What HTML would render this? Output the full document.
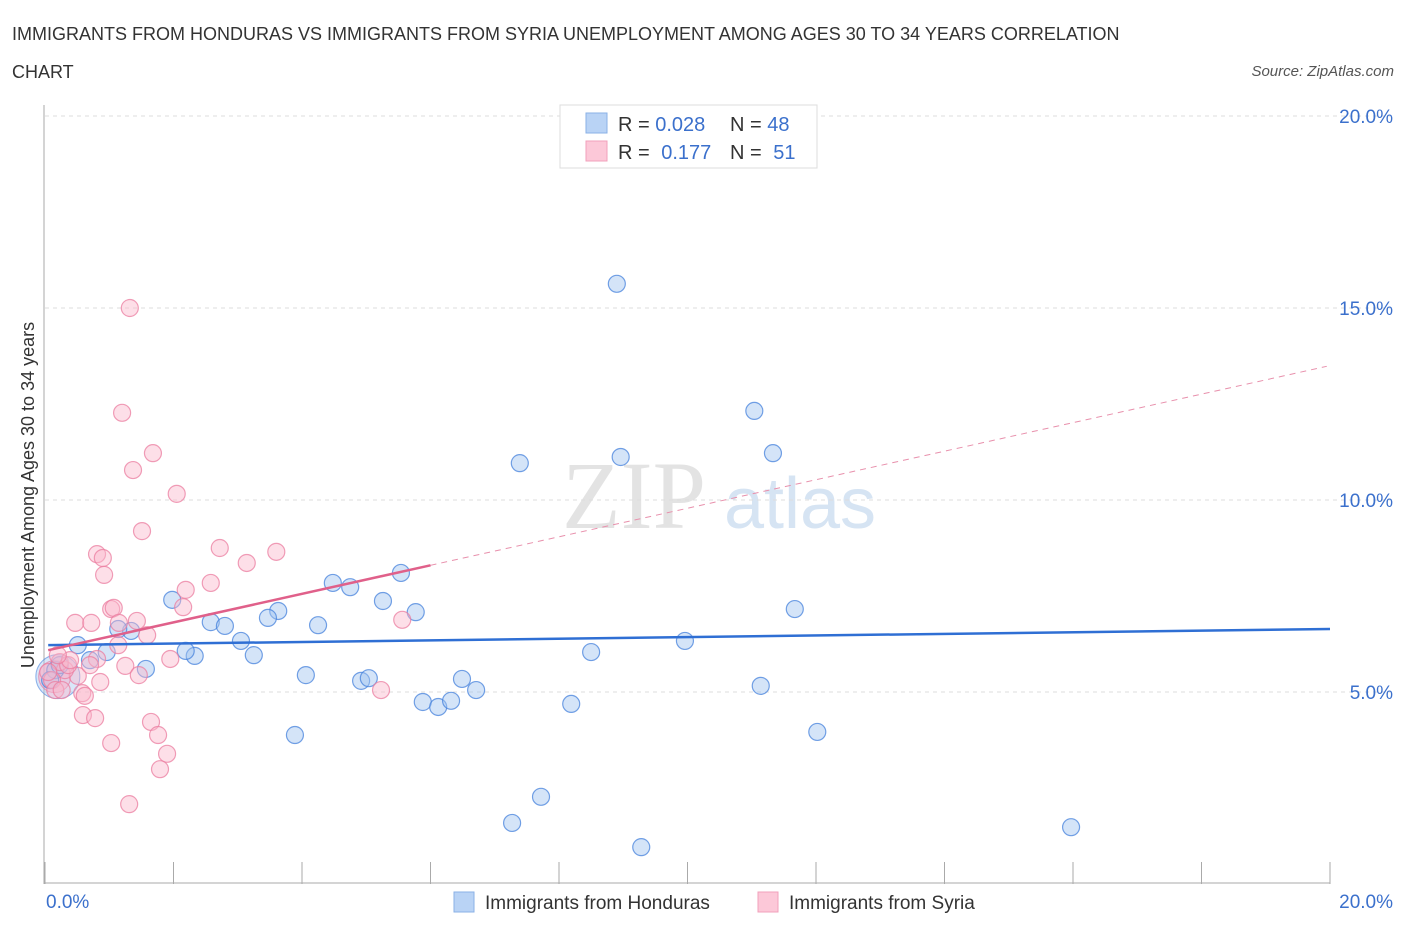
<!DOCTYPE html>
<html><head><meta charset="utf-8"><style>
body{margin:0;background:#fff;font-family:"Liberation Sans",sans-serif}
#wrap{position:relative;width:1406px;height:930px;overflow:hidden}
</style></head><body>
<div id="wrap">
<svg id="svg" width="1406" height="930" xmlns="http://www.w3.org/2000/svg">
<text x="12" y="40" font-size="18" fill="#333">IMMIGRANTS FROM HONDURAS VS IMMIGRANTS FROM SYRIA UNEMPLOYMENT AMONG AGES 30 TO 34 YEARS CORRELATION</text>
<text x="12" y="78" font-size="18" fill="#333">CHART</text>
<text x="1394" y="76" font-size="15" fill="#555" font-style="italic" text-anchor="end">Source: ZipAtlas.com</text>
<text x="634" y="528" font-size="96" fill="#e3e3e3" font-family="Liberation Serif,serif" text-anchor="middle">ZIP</text>
<text x="800" y="528" font-size="72" fill="#d6e4f3" text-anchor="middle">atlas</text>
<text transform="translate(34,495) rotate(-90)" font-size="18" fill="#333" text-anchor="middle">Unemployment Among Ages 30 to 34 years</text>
<g id="grid"></g><g id="pts"></g><g id="lines"></g>
<g>
<rect x="560" y="105" width="257" height="63" fill="#fff" stroke="#ddd"/>
<rect x="586" y="113" width="21" height="20" fill="#b9d3f5" stroke="#8ab0e6"/>
<rect x="586" y="141" width="21" height="20" fill="#fcc8d8" stroke="#f2a0bb"/>
<text x="618" y="131" font-size="20" fill="#333">R = <tspan fill="#3b70cc">0.028</tspan></text>
<text x="730" y="131" font-size="20" fill="#333">N = <tspan fill="#3b70cc">48</tspan></text>
<text x="618" y="159" font-size="20" fill="#333">R = <tspan fill="#3b70cc" dx="6">0.177</tspan></text>
<text x="730" y="159" font-size="20" fill="#333">N = <tspan fill="#3b70cc" dx="6">51</tspan></text>
</g>
<g>
<rect x="454" y="892" width="20" height="20" fill="#b9d3f5" stroke="#8ab0e6"/>
<text x="485" y="909" font-size="19" fill="#333">Immigrants from Honduras</text>
<rect x="758" y="892" width="20" height="20" fill="#fcc8d8" stroke="#f2a0bb"/>
<text x="789" y="909" font-size="19" fill="#333">Immigrants from Syria</text>
</g>
</svg>
</div>
<script>
const yTicks=[5,10,15,20];
const xTickLabels=["0.0%","20.0%"];
const hondX=[8.90,11.04,11.33,7.39,8.96,11.67,9.96,8.50,11.14,12.02,8.19,7.72,7.27,9.28,15.97,5.54,4.48,4.75,5.26,5.77,3.63,3.47,4.25,1.98,2.58,2.80,3.05,3.25,2.33,2.19,1.34,1.14,0.96,0.51,0.70,1.57,4.06,4.92,5.04,6.49,6.71,5.88,6.12,6.32,3.89,0.16,0.08,0.23];
const hondY=[15.63,12.32,11.22,10.96,11.12,7.16,6.33,6.04,5.16,3.96,4.69,2.27,1.59,0.96,1.48,8.10,7.84,7.73,7.37,7.08,7.11,6.93,6.74,7.40,6.82,6.72,6.33,5.96,5.94,6.07,6.59,6.64,6.04,6.22,5.83,5.60,5.44,5.29,5.36,5.34,5.05,4.74,4.61,4.77,3.88,5.57,5.31,5.70];
const syrX=[1.32,1.20,1.68,1.37,2.05,1.51,0.81,0.90,0.92,2.72,3.60,3.14,2.58,2.19,2.15,1.03,1.07,0.47,0.72,1.43,1.15,1.59,1.14,5.56,0.81,1.25,1.95,1.46,0.86,0.51,0.31,0.23,0.11,0.36,0.58,0.62,0.59,0.78,1.65,1.76,1.03,1.90,1.79,1.31,5.23,0.16,0.39,0.05,0.26,0.70,0.20];
const syrY=[15.0,12.27,11.22,10.78,10.16,9.19,8.59,8.49,8.05,8.75,8.65,8.36,7.84,7.66,7.21,7.16,7.19,6.80,6.80,6.85,6.80,6.48,6.22,6.88,5.86,5.68,5.86,5.44,5.26,5.42,5.57,5.78,5.31,5.70,4.97,4.90,4.40,4.32,4.22,3.88,3.67,3.39,2.99,2.08,5.05,5.05,5.83,5.52,5.05,5.70,5.96];
const hondTrend=[6.22,6.64];
const syrTrend=[6.07,13.5];
const X0=45,X1=1330,Y0=884,Y20=116;
const sx=v=>X0+(X1-X0)*v/20, sy=v=>Y0-(Y0-Y20)*v/20;
const NS="http://www.w3.org/2000/svg";
function mk(p,t,a){const e=document.createElementNS(NS,t);for(const k in a)e.setAttribute(k,a[k]);p.appendChild(e);return e;}
const grid=document.getElementById('grid'),pts=document.getElementById('pts'),lines=document.getElementById('lines');
yTicks.forEach(v=>{
 const l=mk(grid,'line',{x1:X0,x2:1390,y1:sy(v),y2:sy(v),stroke:'#ddd','stroke-dasharray':'4,4'});
 
 
 const t=mk(grid,'text',{x:1393,y:sy(v)+7,'font-size':19,fill:'#3b70cc','text-anchor':'end'});
 t.textContent=v.toFixed(1)+'%';
 
 
});
const ax=mk(grid,'line',{x1:X0-1,x2:X0-1,y1:105,y2:Y0,stroke:'#aaa'});


const bx=mk(grid,'line',{x1:X0,x2:X1,y1:Y0-1,y2:Y0-1,stroke:'#aaa'});


for(let i=0;i<=10;i++){const tk=mk(grid,'line',{x1:sx(i*2),x2:sx(i*2),y1:Y0,y2:862,stroke:'#aaa'});
 
 }
[[0,'start',46],[20,'end',1393]].forEach((d,i)=>{const t=mk(grid,'text',{x:d[2],y:908,'font-size':19,fill:'#3b70cc','text-anchor':d[1]});t.textContent=xTickLabels[i];
 
 });
// big overlap blobs near origin
const b1=mk(pts,'circle',{cx:sx(0.2),cy:sy(5.4),r:22,fill:'rgba(160,195,240,0.4)',stroke:'rgba(70,130,220,0.6)'});


const b2=mk(pts,'circle',{cx:sx(0.15),cy:sy(5.4),r:16,fill:'rgba(245,170,200,0.45)',stroke:'rgba(230,110,150,0.6)'});


hondX.forEach((x,i)=>{const c=mk(pts,'circle',{cx:sx(x),cy:sy(hondY[i]),r:8.5,fill:'rgba(160,195,240,0.45)',stroke:'rgba(70,130,220,0.75)','stroke-width':1.2});
 
 });
syrX.forEach((x,i)=>{const c=mk(pts,'circle',{cx:sx(x),cy:sy(syrY[i]),r:8.5,fill:'rgba(250,185,205,0.45)',stroke:'rgba(235,125,160,0.75)','stroke-width':1.2});
 
 });
const hl=mk(lines,'line',{x1:sx(0.05),y1:sy(hondTrend[0]),x2:sx(20),y2:sy(hondTrend[1]),stroke:'#2f6fd4','stroke-width':2.5});


const syAt=x=>syrTrend[0]+(syrTrend[1]-syrTrend[0])*x/20;
const sl=mk(lines,'line',{x1:sx(0.05),y1:sy(syAt(0.05)),x2:sx(6),y2:sy(syAt(6)),stroke:'#e0608a','stroke-width':2.5});


const sd=mk(lines,'line',{x1:sx(6),y1:sy(syAt(6)),x2:sx(19.95),y2:sy(syAt(19.95)),stroke:'#e890ac','stroke-width':1,'stroke-dasharray':'6,5'});


</script>
</body></html>
